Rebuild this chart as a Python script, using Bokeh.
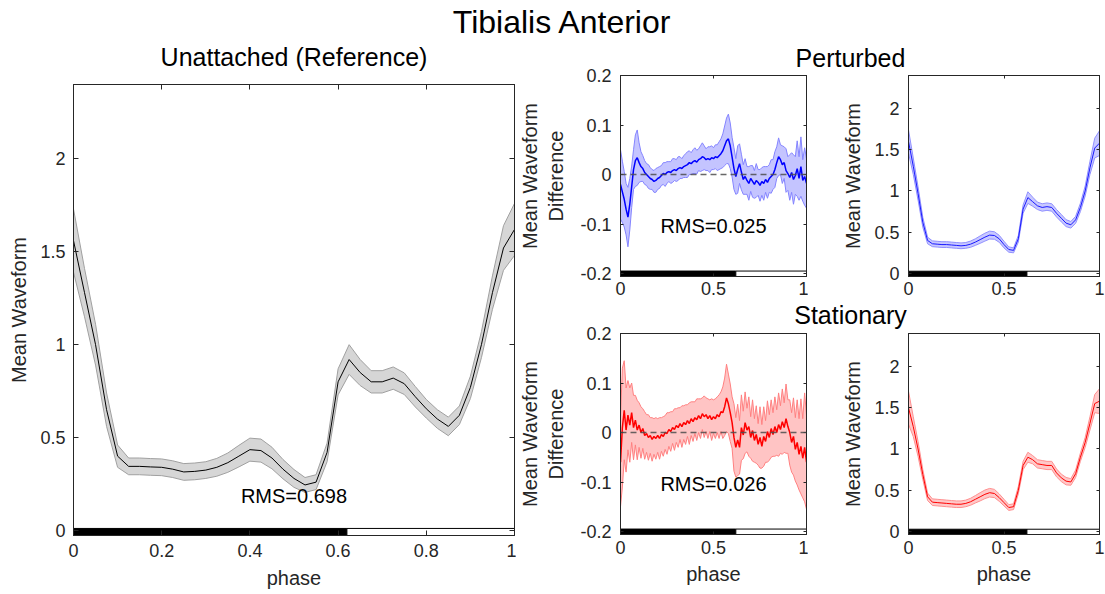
import numpy as np
from bokeh.plotting import figure
from bokeh.models import Range1d, FixedTicker, LinearAxis, Span, Label
from bokeh.layouts import column, row
from bokeh.embed import file_html
from bokeh.resources import INLINE

# ---------------------------------------------------------------- data
phase_wave = np.linspace(0.0, 1.0, 41)    # gait phase sample grid (step 0.025)
phase_diff = np.linspace(0.0, 1.0, 101)   # gait phase sample grid (step 0.01)
stance_end = 0.62

ref_mean = [1.56, 1.28, 1.00, 0.65, 0.40, 0.345, 0.345, 0.342, 0.340, 0.330,
            0.315, 0.318, 0.325, 0.340, 0.365, 0.400, 0.435, 0.430, 0.390, 0.330,
            0.280, 0.245, 0.260, 0.420, 0.800, 0.920, 0.850, 0.800, 0.800, 0.820,
            0.790, 0.720, 0.655, 0.600, 0.560, 0.620, 0.770, 1.000, 1.280, 1.520, 1.620]
ref_sd = [0.170, 0.130, 0.110, 0.090, 0.060, 0.045, 0.045, 0.045, 0.045, 0.045,
          0.045, 0.045, 0.045, 0.048, 0.052, 0.058, 0.062, 0.062, 0.058, 0.052,
          0.048, 0.040, 0.040, 0.050, 0.070, 0.080, 0.070, 0.060, 0.060, 0.060,
          0.058, 0.055, 0.050, 0.050, 0.050, 0.050, 0.060, 0.070, 0.090, 0.120, 0.140]

pert_mean = [1.60, 1.30, 0.97, 0.62, 0.40, 0.360, 0.355, 0.350, 0.350, 0.345,
             0.340, 0.335, 0.340, 0.355, 0.380, 0.410, 0.440, 0.465, 0.460, 0.420,
             0.350, 0.290, 0.280, 0.420, 0.780, 0.920, 0.870, 0.820, 0.800, 0.810,
             0.800, 0.730, 0.670, 0.610, 0.590, 0.650, 0.800, 1.000, 1.280, 1.520, 1.580]
pert_sd = [0.140, 0.100, 0.080, 0.060, 0.040, 0.035, 0.035, 0.035, 0.035, 0.035,
           0.035, 0.035, 0.035, 0.038, 0.040, 0.045, 0.048, 0.048, 0.045, 0.042,
           0.040, 0.032, 0.030, 0.040, 0.050, 0.070, 0.055, 0.045, 0.045, 0.045,
           0.045, 0.045, 0.045, 0.042, 0.040, 0.042, 0.050, 0.060, 0.080, 0.120, 0.150]

stat_mean = [1.50, 1.27, 1.00, 0.69, 0.42, 0.355, 0.350, 0.345, 0.340, 0.335,
             0.330, 0.330, 0.340, 0.360, 0.390, 0.420, 0.450, 0.470, 0.460, 0.410,
             0.350, 0.290, 0.300, 0.500, 0.800, 0.900, 0.870, 0.820, 0.810, 0.800,
             0.800, 0.710, 0.650, 0.610, 0.600, 0.700, 0.900, 1.080, 1.310, 1.550, 1.580]
stat_sd = [0.200, 0.120, 0.090, 0.060, 0.045, 0.040, 0.040, 0.040, 0.040, 0.040,
           0.040, 0.040, 0.040, 0.042, 0.045, 0.050, 0.052, 0.052, 0.050, 0.045,
           0.040, 0.035, 0.035, 0.045, 0.050, 0.060, 0.050, 0.050, 0.050, 0.050,
           0.050, 0.048, 0.045, 0.045, 0.040, 0.045, 0.050, 0.060, 0.080, 0.110, 0.150]

pert_diff = [-0.020, -0.035, -0.050, -0.070, -0.086, -0.060, -0.025, 0.010, 0.028, 0.034,
             0.024, 0.016, 0.012, 0.004, 0.000, -0.004, -0.008, -0.010, -0.014, -0.012,
             -0.008, -0.006, -0.002, 0.002, 0.000, 0.004, 0.006, 0.004, 0.008, 0.010,
             0.008, 0.012, 0.014, 0.012, 0.016, 0.018, 0.020, 0.024, 0.022, 0.026,
             0.028, 0.025, 0.030, 0.032, 0.036, 0.034, 0.030, 0.032, 0.030, 0.034,
             0.032, 0.036, 0.034, 0.038, 0.042, 0.048, 0.058, 0.068, 0.072, 0.058,
             0.035, 0.012, -0.004, 0.010, 0.022, 0.005, -0.010, -0.004, -0.012, -0.018,
             -0.008, -0.014, -0.020, -0.012, -0.016, -0.022, -0.014, -0.018, -0.010, -0.016,
             -0.008, -0.004, 0.000, 0.010, 0.024, 0.036, 0.030, 0.020, 0.024, 0.008,
             0.002, -0.006, 0.004, -0.010, -0.002, 0.012, -0.008, 0.016, -0.012, -0.004,
             -0.018]
pert_diff_sd = [0.070, 0.062, 0.056, 0.052, 0.060, 0.052, 0.042, 0.040, 0.052, 0.056, 0.040,
                0.030, 0.026, 0.024, 0.022, 0.024, 0.022, 0.020, 0.022, 0.024, 0.022,
                0.022, 0.020, 0.022, 0.024, 0.022, 0.020, 0.022, 0.024, 0.022, 0.022,
                0.024, 0.022, 0.020, 0.022, 0.024, 0.026, 0.024, 0.022, 0.024, 0.026,
                0.024, 0.022, 0.026, 0.028, 0.024, 0.022, 0.024, 0.026, 0.024, 0.022,
                0.024, 0.026, 0.028, 0.030, 0.034, 0.040, 0.046, 0.050, 0.046, 0.040,
                0.042, 0.036, 0.048, 0.040, 0.036, 0.030, 0.036, 0.028, 0.034, 0.026,
                0.032, 0.028, 0.034, 0.026, 0.032, 0.028, 0.034, 0.026, 0.032, 0.028,
                0.034, 0.030, 0.036, 0.032, 0.038, 0.030, 0.038, 0.032, 0.044, 0.034,
                0.046, 0.040, 0.050, 0.038, 0.056, 0.044, 0.060, 0.042, 0.058, 0.050]

stat_diff = [-0.060, 0.010, 0.045, 0.005, 0.035, 0.015, 0.040, 0.010, 0.025, 0.005,
             0.015, 0.000, 0.008, -0.006, -0.002, -0.010, -0.006, -0.014, -0.008, -0.012,
             -0.006, -0.012, -0.004, -0.008, 0.000, -0.002, 0.006, 0.002, 0.010, 0.006,
             0.014, 0.010, 0.018, 0.012, 0.020, 0.016, 0.024, 0.018, 0.028, 0.022,
             0.030, 0.026, 0.034, 0.028, 0.038, 0.032, 0.036, 0.028, 0.034, 0.026,
             0.032, 0.028, 0.036, 0.032, 0.042, 0.040, 0.052, 0.070, 0.058, 0.040,
             0.020, -0.010, -0.030, -0.015, -0.030, 0.010, -0.005, 0.020, 0.005, 0.012,
             -0.010, 0.004, -0.016, -0.004, -0.024, -0.010, -0.028, -0.008, -0.018, 0.002,
             -0.010, 0.008, -0.004, 0.012, 0.000, 0.016, 0.006, 0.022, 0.010, 0.028,
             0.012, 0.000, -0.020, -0.008, -0.034, -0.020, -0.044, -0.028, -0.052, -0.030,
             -0.060]
stat_diff_sd = [0.090, 0.120, 0.100, 0.085, 0.070, 0.075, 0.060, 0.065, 0.050, 0.060, 0.045,
                0.052, 0.040, 0.048, 0.038, 0.046, 0.036, 0.044, 0.036, 0.042, 0.034,
                0.042, 0.034, 0.040, 0.034, 0.042, 0.034, 0.040, 0.032, 0.042, 0.034,
                0.040, 0.032, 0.042, 0.034, 0.040, 0.032, 0.042, 0.034, 0.040, 0.032,
                0.042, 0.034, 0.040, 0.032, 0.042, 0.034, 0.040, 0.032, 0.042, 0.034,
                0.040, 0.036, 0.044, 0.040, 0.052, 0.058, 0.068, 0.060, 0.058, 0.052,
                0.068, 0.060, 0.072, 0.054, 0.066, 0.048, 0.062, 0.044, 0.060, 0.042,
                0.062, 0.044, 0.058, 0.042, 0.062, 0.044, 0.060, 0.042, 0.062, 0.046,
                0.058, 0.044, 0.060, 0.046, 0.064, 0.048, 0.066, 0.050, 0.070, 0.054,
                0.066, 0.060, 0.078, 0.064, 0.086, 0.072, 0.096, 0.080, 0.110, 0.095]

rms_ref, rms_pert, rms_stat = "RMS=0.698", "RMS=0.025", "RMS=0.026"

x_ticks_main = [0, 0.2, 0.4, 0.6, 0.8, 1]
x_labels_main = ["0", "0.2", "0.4", "0.6", "0.8", "1"]
x_ticks_small = [0, 0.5, 1]
x_labels_small = ["0", "0.5", "1"]
y_ticks_wave = [0, 0.5, 1, 1.5, 2]
y_labels_wave = ["0", "0.5", "1", "1.5", "2"]
y_ticks_diff = [-0.2, -0.1, 0, 0.1, 0.2]
y_labels_diff = ["-0.2", "-0.1", "0", "0.1", "0.2"]

# ---------------------------------------------------------------- style
FONT = "Liberation Sans"
AX = "#262626"


def panel(width, height, left, right, top, bottom, yr, xticks, xlabels, yticks, ylabels,
          xlabel, ylabel, tick_len, x_so, x_lab_so, y_so, y_lab_so):
    p = figure(width=width, height=height, x_range=Range1d(0, 1), y_range=Range1d(*yr),
               output_backend="svg", toolbar_location=None, title=None,
               min_border_left=left, min_border_right=right,
               min_border_top=top, min_border_bottom=bottom)
    p.grid.visible = False
    p.outline_line_color = AX
    p.outline_line_width = 1
    p.border_fill_color = None          # transparent margins (title strips may overlap)
    p.background_fill_color = "white"
    xa, ya = p.xaxis[0], p.yaxis[0]
    for ax, ticks, labels in ((xa, xticks, xlabels), (ya, yticks, ylabels)):
        ax.ticker = FixedTicker(ticks=ticks)
        ax.major_label_overrides = dict(zip(ticks, labels))
        ax.axis_line_color = AX
        ax.major_tick_line_color = AX
        ax.major_tick_in = tick_len
        ax.major_tick_out = 0
        ax.minor_tick_line_color = None
        ax.major_label_text_font = FONT
        ax.major_label_text_font_size = "18px"
        ax.major_label_text_color = AX
        ax.axis_label_text_font = FONT
        ax.axis_label_text_font_size = "20px"
        ax.axis_label_text_font_style = "normal"
        ax.axis_label_text_color = AX
    xa.major_label_standoff = x_so
    xa.axis_label_standoff = x_lab_so
    ya.major_label_standoff = y_so
    ya.axis_label_standoff = y_lab_so
    if xlabel:
        xa.axis_label = xlabel
    ya.axis_label = ylabel
    # mirrored tick marks on the top and right edges of the box (no labels)
    for loc, ticks in (("above", xticks), ("right", yticks)):
        a = LinearAxis(ticker=FixedTicker(ticks=ticks), major_label_text_font_size="0px",
                       major_label_text_color=None, major_label_standoff=0,
                       major_tick_in=tick_len, major_tick_out=0,
                       minor_tick_line_color=None, axis_line_color=AX,
                       major_tick_line_color=AX)
        p.add_layout(a, loc)
    return p


def band(p, x, mean, sd, fill, edge, line, lw):
    m = np.asarray(mean)
    s = np.asarray(sd)
    p.varea(x=x, y1=m - s, y2=m + s, fill_color=fill, fill_alpha=1.0)
    p.line(x, m + s, line_color=edge, line_width=1)
    p.line(x, m - s, line_color=edge, line_width=1)
    p.line(x, m, line_color=line, line_width=lw)


def stance_bar(p, lo, hi):
    p.quad(left=[0], right=[stance_end], bottom=[lo], top=[hi],
           fill_color="black", line_color="black", line_width=1)
    p.quad(left=[stance_end], right=[1], bottom=[lo], top=[hi],
           fill_color="white", line_color="black", line_width=1)


def text_strip(width, height, xr=None, overlap=0):
    kw = {}
    if overlap:
        kw["styles"] = {"margin-bottom": f"-{overlap}px"}
    p = figure(width=width, height=height, x_range=Range1d(*(xr or (0, width))),
               y_range=Range1d(height, 0),
               output_backend="svg", toolbar_location=None, title=None,
               x_axis_location=None, y_axis_location=None, min_border=0, **kw)
    p.outline_line_color = None
    p.grid.visible = False
    p.border_fill_color = None
    p.background_fill_color = None
    return p


def title(p, x, y, txt, size):
    p.add_layout(Label(x=x, y=y, text=txt, text_font=FONT, text_font_size=size,
                       text_align="center", text_baseline="middle", text_color="black"))


# ---------------------------------------------------------------- header (page y 0-40)
header = text_strip(1105, 40)
title(header, 562, 21, "Tibialis Anterior", "32px")

# ---------------------------------------------------------------- main panel (page y 40-594)
# this strip's frame gets aligned with the main axes below, so use the phase range
unatt_strip = text_strip(516, 32, xr=(0, 1))
title(unatt_strip, 0.5, 16, "Unattached (Reference)", "25px")

main = panel(516, 522, 73, 2, 12, 59, (-0.027, 2.4), x_ticks_main, x_labels_main,
             y_ticks_wave, y_labels_wave, "phase", "Mean Waveform", 5, 8, 7, 8, 7)
band(main, phase_wave, ref_mean, ref_sd, "#d6d6d6", "#a0a0a0", "black", 1)
stance_bar(main, -0.027, 0.011)
main.add_layout(Label(x=0.5, y=0.183, text=rms_ref, text_font=FONT, text_font_size="20px",
                      text_align="center", text_baseline="middle", text_color="black"))

# ---------------------------------------------------------------- right panels
zero = dict(location=0, dimension="width", line_color="#4d4d4d", line_dash="6 4",
            line_width=1.5, line_alpha=0.85)

pert_strip = text_strip(589, 32, overlap=12)      # page y 40-72, next starts at 60
title(pert_strip, 334, 17, "Perturbed", "25px")

d_top = panel(292, 241, 100, 2, 15, 25, (-0.206, 0.2), x_ticks_small, x_labels_small,
              y_ticks_diff, y_labels_diff, None, "Mean Waveform\nDifference", 3, 5, 3, 9, 10)
band(d_top, phase_diff, pert_diff, pert_diff_sd, "#c4c4ff", "#8484ff", "#0000ff", 1.5)
d_top.add_layout(Span(**zero))
stance_bar(d_top, -0.206, -0.195)
d_top.add_layout(Label(x=0.5, y=-0.105, text=rms_pert, text_font=FONT, text_font_size="20px",
                       text_align="center", text_baseline="middle", text_color="black"))

w_top = panel(297, 241, 100, 6, 15, 25, (-0.037, 2.4), x_ticks_small, x_labels_small,
              y_ticks_wave, y_labels_wave, None, "Mean Waveform", 3, 5, 3, 9, 7)
band(w_top, phase_wave, pert_mean, pert_sd, "#c8c8ff", "#9090ff", "#1a1aff", 1)
stance_bar(w_top, -0.037, 0.027)

stat_strip = text_strip(589, 28, overlap=9)       # page y 301-329, next starts at 320
title(stat_strip, 334, 13, "Stationary", "25px")

d_bot = panel(292, 274, 100, 2, 13, 60, (-0.206, 0.2), x_ticks_small, x_labels_small,
              y_ticks_diff, y_labels_diff, "phase", "Mean Waveform\nDifference", 3, 6, 6, 9, 10)
band(d_bot, phase_diff, stat_diff, stat_diff_sd, "#ffc4c4", "#ff8080", "#ff0000", 1.5)
d_bot.add_layout(Span(**zero))
stance_bar(d_bot, -0.206, -0.195)
d_bot.add_layout(Label(x=0.5, y=-0.105, text=rms_stat, text_font=FONT, text_font_size="20px",
                       text_align="center", text_baseline="middle", text_color="black"))

w_bot = panel(297, 274, 100, 6, 13, 60, (-0.037, 2.4), x_ticks_small, x_labels_small,
              y_ticks_wave, y_labels_wave, "phase", "Mean Waveform", 3, 6, 6, 9, 7)
band(w_bot, phase_wave, stat_mean, stat_sd, "#ffc8c8", "#ff9090", "#ff0000", 1)
stance_bar(w_bot, -0.037, 0.027)

left_col = column(unatt_strip, main, spacing=0)
right_col = column(pert_strip, row(d_top, w_top, spacing=0), stat_strip,
                   row(d_bot, w_bot, spacing=0), spacing=0)
layout = column(header, row(left_col, right_col, spacing=0), spacing=0)

open("out.html", "w").write(file_html(layout, INLINE))
